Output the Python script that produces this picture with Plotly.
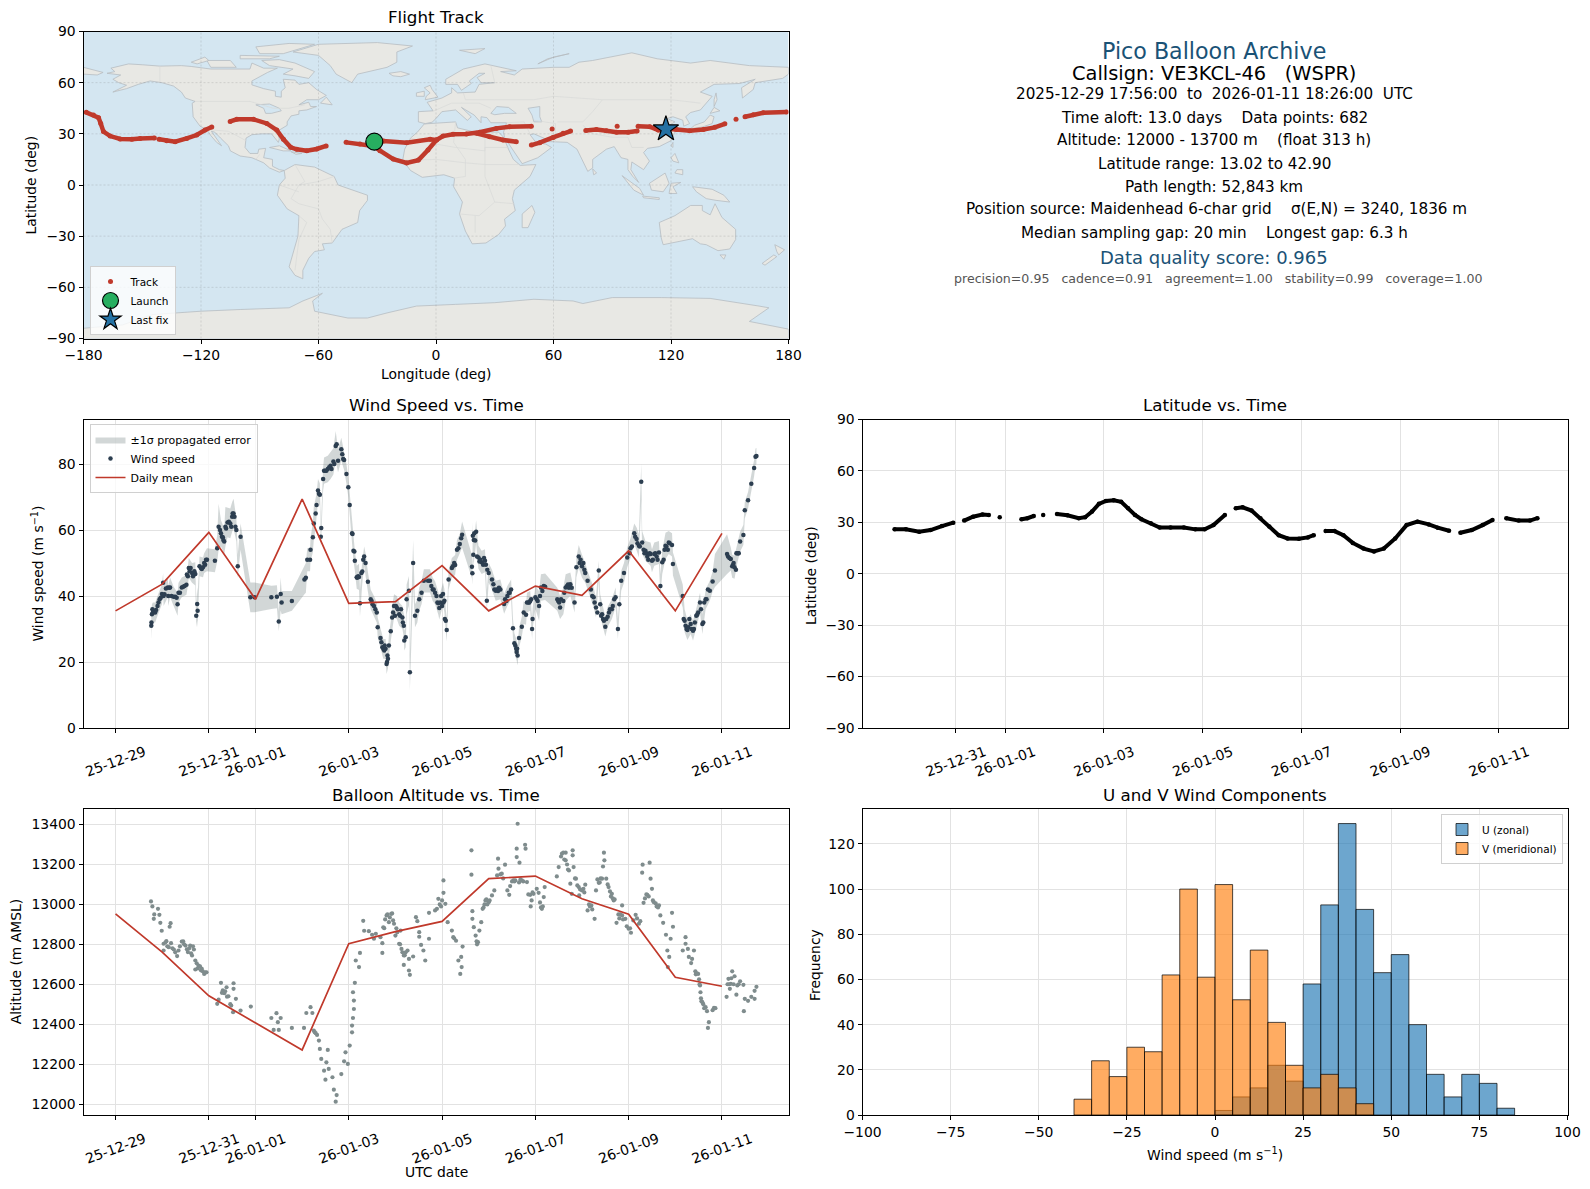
"""Pico balloon flight summary: track map, wind, latitude, altitude and wind histogram."""

from datetime import datetime, timedelta

import numpy as np
import plotly.graph_objects as go

W, H = 1590, 1189
FONT = "DejaVu Sans"
RED = "#c0392b"
NAVY = "#2c3e50"
GREY = "#7f8c8d"
TITLE_BLUE = "#1a5276"
GRID = "#e2e2e2"
OCEAN = "#d4e6f1"
LAND = "#e8e8e4"
COAST = "#b6bdc1"
BORDER = "#d8dad9"

T0 = datetime(2025, 12, 29)

# --- time tick dates
TICK_DATES = ["2025-12-29", "2025-12-31", "2026-01-01", "2026-01-03",
              "2026-01-05", "2026-01-07", "2026-01-09", "2026-01-11"]

# --- wind speed, days since T0
wind_t = [
    .766, .78, .8, .85, .9, .945, .995, 1.02, 1.03, 1.12,
    1.13, 1.17, 1.245, 1.33, 1.35, 1.42, 1.52, 1.55, 1.57, 1.64,
    1.71, 1.73, 1.75, 1.76, 1.8, 1.875, 1.9, 1.96, 2.13, 2.18,
    2.21, 2.26, 2.3, 2.33, 2.355, 2.4, 2.46, 2.5, 2.53, 2.59,
    2.62, 2.68, 2.89, 2.98, 3.34, 3.46, 3.5, 3.54, 3.56, 3.78,
    4.05, 4.08, 4.11, 4.17, 4.18, 4.23, 4.25, 4.29, 4.31, 4.34,
    4.38, 4.4, 4.41, 4.45, 4.47, 4.55, 4.61, 4.67, 4.72, 4.77,
    4.84, 4.9, 4.95, 4.99, 5.02, 5.07, 5.1, 5.13, 5.17, 5.22,
    5.24, 5.29, 5.33, 5.36, 5.41, 5.47, 5.54, 5.6, 5.62, 5.68,
    5.74, 5.79, 5.81, 5.84, 5.86, 5.9, 5.93, 5.97, 6.03, 6.08,
    6.15, 6.18, 6.19, 6.22, 6.24, 6.29, 6.31, 6.38, 6.42, 6.47,
    6.51, 6.56, 6.61, 6.7, 6.74, 6.8, 6.85, 6.92, 6.94, 7.02,
    7.05, 7.08, 7.1, 7.14, 7.21, 7.28, 7.32, 7.38, 7.43, 7.64,
    7.65, 7.66, 7.67, 7.71, 7.73, 7.78, 7.85, 7.92, 7.96, 8.0,
    8.07, 8.1, 8.15, 8.25, 8.33, 8.4, 8.48, 8.52, 8.55, 8.59,
    8.62, 8.65, 8.71, 8.75, 8.8, 8.82, 8.89, 8.93, 8.94, 9.0,
    9.08, 9.12, 9.21, 9.47, 9.53, 9.6, 9.65, 9.75, 9.84, 9.88,
    9.93, 10.0, 10.07, 10.12, 10.19, 10.25, 10.3, 10.36, 10.39, 10.43,
    10.47, 10.5, 10.55, 10.64, 10.72, 10.77, 10.8, 10.84, 10.9, 10.97,
    11.04, 11.12, 11.17, 11.22, 11.27, 11.29, 11.36, 11.47, 11.5, 11.55,
    11.65, 11.68, 11.72, 11.79, 11.86, 11.93, 11.95, 12.16, 12.2, 12.26,
    12.33, 12.38, 12.47, 12.53, 12.58, 12.65, 12.74, 12.8, 12.85, 13.11,
    13.19, 13.22, 13.27, 13.33, 13.39, 13.46, 13.49, 13.56, 13.63, 13.69,
    13.72, 13.74,
]
wind_v = [
    31, 34.5, 35, 35, 37, 39, 40.6, 44, 40, 42.6,
    40, 42.6, 39.8, 37.5, 41, 42.6, 43.4, 46, 48.5, 47,
    46.7, 34, 37.6, 35.5, 49, 48.7, 50, 51, 50.7, 54.5,
    61, 59, 57.8, 56.5, 61, 62.3, 62, 64, 65, 60,
    49, 58, 39.6, 39.6, 39.6, 39.8, 32.3, 40.6, 38, 38.5,
    45, 45.5, 51, 51, 54, 57.8, 62, 65, 67.6, 72,
    70.7, 58, 60.6, 75.5, 78, 78.5, 79.5, 80.8, 85.5, 81,
    84.5, 81.2, 77, 73, 67.6, 59, 53.7, 50.7, 45.7, 45.8,
    37.8, 47.4, 52, 50, 44.3, 39, 37, 35, 30.5, 27.3,
    24, 24, 19.4, 21, 25, 29.3, 33.5, 37, 36.5, 34.5,
    33.5, 31, 26.5, 27.5, 39, 41.6, 16.9, 50, 34, 35.5,
    39, 41, 44.6, 44.6, 44.6, 42, 41, 37.8, 36.4, 40.6,
    38.6, 32.5, 29.7, 45, 48.5, 49.4, 54, 55.8, 58.6, 48.9,
    46.9, 58.3, 52.5, 56.8, 59.5, 51.7, 50.2, 50.7, 38.6, 47,
    45, 43.6, 41.6, 42, 37.6, 40, 42, 30.2, 25.7, 24,
    22, 27.3, 30.7, 35, 34.3, 38, 38.5, 30, 33, 39.6,
    37, 42.6, 42.8, 39, 36.5, 38.5, 42.6, 43.6, 38, 48.7,
    52, 49, 47, 44.6, 42, 39.6, 36.5, 47.7, 37.5, 34.5,
    32.5, 30.7, 33.7, 36, 39.6, 30, 37.5, 44.6, 47, 51.7,
    54.5, 59, 57.3, 55.2, 74.6, 56.2, 53.7, 52.7, 50.7, 52.7,
    53.2, 43, 50.2, 55.2, 56.2, 55.5, 49.7, 40, 32.5, 29.7,
    31.5, 29.5, 34.3, 38, 31.5, 39, 41.6, 44.4, 47.7, 52.7,
    51.2, 49, 48.7, 53, 56.5, 58.5, 66, 69, 74, 78.8,
    82.2, 82.4,
]
wind_err = [
    4, 3, 3, 3, 3, 3, 3, 3, 3, 3,
    3, 3, 3, 3.5, 3, 3, 3, 3, 3, 3,
    3.5, 3.5, 5, 5, 3, 3, 3, 3.5, 3.5, 4,
    7, 4, 4, 4, 6, 4.5, 4.5, 4.5, 4.5, 3.5,
    3.5, 4, 4.5, 4.5, 3.5, 3.5, 3, 5, 3.5, 3,
    4.5, 4.5, 3.5, 3.5, 3.5, 4.5, 5, 4.5, 3.5, 3.5,
    3.5, 3, 3, 3.5, 4, 4, 4, 4, 4.5, 3.5,
    3.5, 3, 3, 3, 3, 3, 3, 3, 3.5, 4,
    4, 3.5, 3, 3, 3, 3, 3, 3, 3, 3,
    3, 3, 3, 3, 3, 3, 3.5, 3.5, 3.5, 3.5,
    3.5, 3.5, 3, 3, 4.5, 4.5, 5.5, 7, 3.5, 3.5,
    3.5, 3.5, 3.5, 3.5, 3.5, 3.5, 3.5, 3.5, 3.5, 3.5,
    3.5, 3.5, 3.5, 3, 3, 3, 3, 3, 4, 3.5,
    3.5, 4, 3.5, 3.5, 3.5, 3.5, 3.5, 3.5, 3, 3,
    3, 3, 3, 3, 3, 3, 3, 3, 3, 3,
    3, 3, 3, 3.5, 3, 3, 3, 3, 3, 3.5,
    4.5, 4, 4, 3.5, 3.5, 4, 4, 3.5, 3, 3,
    3.5, 3.5, 3, 3, 3, 3, 3, 3, 3, 3,
    3, 3, 3, 3, 3, 3, 3, 3, 3, 3,
    3, 3, 3.5, 3.5, 5.5, 3.5, 3, 3.5, 3.5, 3.5,
    3.5, 3.5, 3.5, 4, 3.5, 3.5, 3.5, 3.5, 3.5, 3,
    3, 3, 3, 3, 3, 3, 3, 3, 5, 6,
    3.5, 3.5, 3.5, 3, 3, 3, 2.5, 2.5, 2.5, 2.5,
    2.5, 2.5,
]
# more wind dots read along the dense stretches
wind_dense_t = [
    .77, .79, .82, .87, .92, .97, 1.05, 1.08, 1.15, 1.2, 1.28, 1.31, 1.38, 1.45, 1.48, 1.53, 1.59, 1.61, 1.66, 1.69,
    1.83, 1.85, 1.92, 1.94, 2.24, 2.28, 2.31, 2.37, 2.43, 2.48, 2.51, 2.55, 2.57, 4.36, 4.49, 4.52, 4.58, 4.63, 4.69, 4.74,
    4.86, 4.88, 5.08, 5.12, 5.18, 5.2, 5.27, 5.31, 5.49, 5.51, 5.57, 5.7, 5.72, 5.76, 5.77, 5.82, 5.83, 5.95, 5.99, 6.01,
    6.05, 6.1, 6.12, 6.16, 6.77, 6.82, 6.88, 6.9, 6.96, 6.98, 7.0, 7.03, 7.06, 7.23, 7.26, 7.35, 7.41, 7.68, 7.69, 7.75,
    7.8, 7.82, 7.88, 7.9, 7.94, 7.97, 8.12, 8.17, 8.2, 8.22, 8.35, 8.38, 8.43, 8.45, 8.57, 8.6, 8.61, 8.85, 8.87, 8.91,
    9.03, 9.05, 9.1, 9.15, 9.18, 9.49, 9.51, 9.55, 9.62, 9.68, 9.7, 9.72, 9.78, 9.95, 9.97, 10.03, 10.05, 10.22, 10.27, 10.33,
    10.41, 10.45, 10.52, 10.58, 10.6, 10.66, 10.69, 11.02, 11.07, 11.14, 11.19, 11.24, 11.32, 11.34, 11.38, 11.4, 11.42, 11.45, 11.52, 11.57,
    11.6, 11.62, 11.75, 11.77, 11.81, 11.84, 11.88, 12.18, 12.22, 12.24, 12.28, 12.3, 12.35, 12.4, 12.42, 12.45, 12.49, 12.55, 12.6, 12.62,
    12.67, 12.7, 13.13, 13.16, 13.24, 13.25, 13.3, 13.31, 13.35, 13.36,
]
wind_dense_v = [
    32, 36, 35.5, 35.8, 38, 39.5, 40.5, 42.3, 42.5, 40, 39.8, 39.5, 41, 42.8, 43, 46.5, 47.5, 48.5, 46, 47.5,
    48.5, 48.2, 49.5, 51, 60, 58, 57, 60.5, 62.5, 61, 65, 64, 61, 71, 78, 78, 79, 78.5, 80, 86,
    83, 81.5, 58.8, 53.5, 45.5, 46, 47, 51, 38.5, 37.5, 36, 26, 24.5, 23.5, 25, 20, 22, 35, 34, 37,
    36, 34, 36, 32, 43, 42, 40, 38, 38, 40, 37, 38, 33, 49, 50, 54.5, 57.5, 57, 59, 52,
    50.5, 51, 49.5, 51.5, 49.5, 48, 42, 42, 41.5, 42.5, 39, 38.5, 41, 41, 25, 23, 24, 38, 38, 39,
    39, 38.5, 40, 41.5, 43, 38.5, 38, 39, 41, 43, 43.5, 42.5, 42.5, 50, 51, 50, 48, 40, 38, 35,
    34, 33, 33, 35, 36, 37, 39, 53, 55, 58, 56, 55, 54, 53, 53, 52, 51, 53, 51, 53,
    52, 51, 51, 54, 55, 54, 56, 33, 31, 30, 30.5, 33, 30, 30, 32, 34, 35, 36, 32, 38,
    39, 42, 52, 51.5, 49.5, 50, 48, 53, 53, 53,
]

# --- daily means, one per day from T0
mean_t = [0, 1, 2, 3, 4, 5, 6, 7, 8, 9, 10, 11, 12, 13]
wind_mean = [35.5, 43.6, 59.3, 39, 69.4, 37.8, 38.3, 49.2, 35.5, 43, 40.2, 53.7, 35.5, 59]
alt_mean = [12953, 12761, 12542, 12405, 12271, 12803, 12864, 12915, 13129, 13142, 13028, 12951, 12635, 12590]

# --- altitude
alt_t = [
    .76, .79, .82, .83, .91, .94, .96, .99, 1.03, 1.03,
    1.09, 1.14, 1.16, 1.18, 1.19, 1.25, 1.32, 1.35, 1.42, 1.5,
    1.55, 1.6, 1.64, 1.68, 1.71, 1.71, 1.78, 1.85, 1.9, 1.95,
    2.18, 2.21, 2.26, 2.28, 2.38, 2.39, 2.48, 2.52, 2.53, 2.53,
    2.58, 2.68, 2.9, 3.34, 3.39, 3.45, 3.48, 3.5, 3.54, 3.78,
    4.04, 4.09, 4.18, 4.22, 4.25, 4.32, 4.36, 4.38, 4.41, 4.47,
    4.5, 4.52, 4.55, 4.57, 4.65, 4.68, 4.72, 4.74, 4.84, 4.9,
    4.93, 4.98, 5.02, 5.07, 5.07, 5.09, 5.09, 5.11, 5.11, 5.13,
    5.15, 5.22, 5.24, 5.31, 5.33, 5.43, 5.5, 5.54, 5.58, 5.68,
    5.72, 5.72, 5.76, 5.81, 5.86, 5.91, 5.97, 6.0, 6.08, 6.11,
    6.13, 6.18, 6.18, 6.26, 6.29, 6.29, 6.31, 6.38, 6.44, 6.47,
    6.51, 6.51, 6.55, 6.6, 6.64, 6.72, 6.72, 6.85, 6.89, 6.92,
    7.03, 7.03, 7.07, 7.12, 7.21, 7.24, 7.3, 7.35, 7.39, 7.41,
    7.42, 7.44, 7.63, 7.63, 7.65, 7.65, 7.68, 7.72, 7.77, 7.8,
    7.84, 7.87, 7.93, 8.0, 8.07, 8.12, 8.18, 8.2, 8.21, 8.28,
    8.35, 8.4, 8.44, 8.46, 8.53, 8.6, 8.6, 8.62, 8.66, 8.71,
    8.78, 8.79, 8.82, 8.89, 8.9, 8.96, 9.03, 9.07, 9.14, 9.18,
    9.2, 9.46, 9.5, 9.57, 9.65, 9.65, 9.72, 9.75, 9.78, 9.8,
    9.8, 9.82, 9.87, 9.93, 9.94, 10.03, 10.07, 10.12, 10.2, 10.27,
    10.3, 10.36, 10.43, 10.45, 10.47, 10.48, 10.52, 10.57, 10.64, 10.68,
    10.74, 10.86, 10.86, 10.93, 11.0, 11.05, 11.15, 11.22, 11.25, 11.29,
    11.3, 11.32, 11.4, 11.45, 11.47, 11.5, 11.54, 11.65, 11.68, 11.74,
    11.8, 11.83, 11.84, 11.87, 11.9, 11.93, 11.95, 12.16, 12.22, 12.22,
    12.27, 12.29, 12.34, 12.36, 12.4, 12.43, 12.49, 12.53, 12.54, 12.58,
    12.65, 12.68, 12.7, 12.72, 12.83, 13.1, 13.14, 13.17, 13.19, 13.22,
    13.27, 13.31, 13.33, 13.39, 13.46, 13.47, 13.49, 13.56, 13.63, 13.7,
    13.7, 13.74,
]
alt_m = [
    13015, 12990, 12928, 12950, 12978, 12948, 12908, 12868, 12803, 12769,
    12816, 12786, 12888, 12906, 12806, 12774, 12741, 12769, 12814, 12794,
    12761, 12794, 12744, 12774, 12719, 12674, 12694, 12677, 12652, 12660,
    12502, 12523, 12607, 12557, 12585, 12538, 12493, 12460, 12605, 12577,
    12527, 12468, 12488, 12431, 12371, 12455, 12410, 12371, 12431, 12381,
    12381, 12456, 12485, 12456, 12368, 12346, 12318, 12276, 12226, 12167,
    12122, 12209, 12271, 12176, 12134, 12072, 12012, 12045, 12150, 12214,
    12259, 12201, 12293, 12359, 12393, 12431, 12560, 12476, 12518, 12607,
    12719, 12686, 12757, 12918, 12868, 12866, 12848, 12828, 12853, 12836,
    12806, 12757, 12881, 12945, 12911, 12953, 12903, 12844, 12803, 12869,
    12777, 12744, 12697, 12769, 12727, 12669, 12647, 12739, 12936, 12916,
    12861, 12838, 12797, 12769, 12719, 12958, 12828, 12970, 12978, 13028,
    13120, 13058, 13003, 12911, 12869, 12836, 12818, 12719, 12652, 12737,
    12686, 12789, 13271, 13149, 12966, 12928, 12886, 12844, 12811, 12869,
    12911, 12978, 13020, 13011, 13045, 13070, 13145, 13229, 13179, 13154,
    13199, 13070, 13048, 13092, 13120, 13279, 13237, 13404, 13209, 13120,
    13299, 13279, 13112, 13048, 12990, 13053, 13078, 13058, 12978, 13037,
    13087, 13140, 13187, 13254, 13259, 13221, 13170, 13104, 13053, 13271,
    13246, 13187, 13129, 13087, 13045, 13078, 13099, 12970, 12995, 12928,
    13070, 13108, 13129, 13190, 13259, 13221, 13129, 13087, 13053, 13020,
    12908, 12995, 12945, 12928, 12878, 12858, 12948, 12903, 12916, 13159,
    13199, 13008, 13048, 13209, 13129, 13078, 13011, 12995, 12945, 12908,
    12848, 12769, 12686, 12737, 12828, 12958, 12888, 12769, 12836, 12803,
    12777, 12737, 12706, 12727, 12769, 12665, 12652, 12594, 12560, 12510,
    12485, 12465, 12381, 12410, 12482, 12537, 12627, 12577, 12602, 12665,
    12640, 12548, 12594, 12615, 12597, 12465, 12527, 12517, 12537, 12527,
    12567, 12587,
]
# more altitude dots read along the dense stretches
alt_dense_t = [
    1.07, 1.11, 1.22, 1.28, 1.38, 1.45, 1.47, 1.53, 1.58, 1.62, 1.66, 1.74, 1.76, 1.81, 1.83, 1.87, 1.92, 2.3, 2.33, 2.35,
    2.42, 2.46, 4.27, 4.29, 5.74, 5.78, 5.83, 5.88, 5.93, 5.95, 6.02, 6.04, 6.1, 6.15, 6.2, 6.22, 6.95, 6.98, 7.0, 7.26,
    7.74, 7.75, 7.89, 7.91, 7.95, 7.97, 8.02, 8.25, 8.31, 8.5, 8.55, 8.57, 8.65, 8.68, 8.74, 8.85, 8.92, 8.94, 9.1, 9.12,
    9.16, 9.55, 9.6, 9.62, 9.68, 9.7, 9.85, 9.9, 9.96, 10.0, 10.05, 10.15, 10.17, 10.22, 10.33, 10.38, 10.4, 10.55, 10.6, 10.62,
    10.66, 10.7, 10.78, 10.8, 10.82, 10.88, 10.96, 11.03, 11.1, 11.18, 11.35, 11.38, 11.43, 11.52, 11.58, 11.6, 11.63, 12.44, 12.46, 12.51,
    12.52, 12.55, 12.56, 12.6, 12.62, 12.8, 12.86, 13.12, 13.15, 13.2, 13.25, 13.36,
]
alt_dense_m = [
    12810, 12790, 12780, 12760, 12790, 12815, 12800, 12775, 12780, 12755, 12790, 12705, 12680, 12690, 12670, 12665, 12660, 12570, 12555, 12565,
    12540, 12500, 12360, 12355, 12885, 12925, 12950, 12935, 12955, 12920, 12880, 12860, 12800, 12760, 12745, 12760, 13000, 12990, 13020, 12830,
    12815, 12800, 12985, 13000, 13025, 13000, 13020, 13150, 13130, 13115, 13115, 13120, 13110, 13125, 13115, 13050, 13020, 13060, 13010, 12985,
    12990, 13240, 13260, 13225, 13200, 13175, 13130, 13095, 13075, 13070, 13060, 13000, 12990, 12975, 13125, 13110, 13130, 13100, 13065, 13040,
    13030, 13025, 12950, 12930, 12950, 12925, 12890, 12880, 12920, 12930, 13030, 13050, 13040, 13020, 13005, 12990, 12985, 12650, 12655, 12625,
    12600, 12530, 12515, 12500, 12480, 12470, 12480, 12600, 12600, 12630, 12600, 12600,
]

# --- latitude runs (split at the data gaps)
lat_runs_t = [
    [.76, .99, 1.26, 1.49, 1.72, 1.95],
    [2.17, 2.35, 2.54, 2.67],
    [2.89],
    [3.33, 3.45, 3.58],
    [3.77],
    [4.05, 4.26, 4.49, 4.62, 4.76, 4.9, 5.04, 5.2, 5.35, 5.49, 5.63, 5.76, 5.95, 6.13, 6.35, 6.62, 6.85, 7.04, 7.22, 7.45],
    [7.67, 7.81, 7.99, 8.17, 8.35, 8.54, 8.72, 8.95, 9.13, 9.25],
    [9.49, 9.67, 9.85, 10.04, 10.26, 10.47, 10.67, 10.9, 11.13, 11.35, 11.58, 11.76, 11.99],
    [12.22, 12.45, 12.67, 12.87],
    [13.15, 13.4, 13.63, 13.78],
]
lat_runs_v = [
    [25.9, 25.9, 24.5, 25.5, 27.8, 29.8],
    [31, 33.3, 34.5, 34.3],
    [33],
    [31.8, 32.4, 33.7],
    [34.3],
    [34.9, 34.1, 32.4, 33, 36.3, 40.8, 42.5, 42.9, 42, 38.2, 34.3, 31.8, 29.4, 27, 27, 27, 25.9, 25.9, 28.4, 34.3],
    [38.2, 38.8, 36.9, 32.4, 27.5, 22.5, 20.6, 20.4, 21.2, 22.5],
    [24.9, 24.9, 22.5, 18, 14.7, 13.02, 14.7, 20.6, 28.4, 30.4, 28.8, 26.9, 25.1],
    [23.9, 25.5, 28.4, 31.4],
    [32.4, 31, 31, 32.4],
]

# --- flight track runs on the map
track_runs_lon = [
    [-178.6, -174.9, -172.3, -171.2, -169.8, -166.4, -161.3, -155.3, -151.1, -143.8],
    [-141.4, -137.5, -133.2, -127.3, -122.2, -117.9, -114.5],
    [-105.1, -101.7, -93.2, -86.4, -81.3, -77.9, -74.2, -71.1, -66, -60.9, -56.1],
    [-45.9, -38.8, -32, -28.6, -21.8, -15, -9, -4.1, 0.2, 3.6, 8.7, 15.5, 22.3, 30.8, 37.6, 48.7],
    [-32, -26.9, -15, -3, 0.2],
    [20.6, 27.4, 34.2, 41],
    [48.7, 53, 59.8, 64.9, 68.7],
    [59.3],
    [76.5, 81.9, 87, 92.2, 98.1, 102.7],
    [92.5],
    [103.2, 109.2, 113.5, 117.7, 122.8, 129.6, 136.5, 142.4, 147.5],
    [153.2],
    [157.8, 162, 167.1, 179],
]
track_runs_lat = [
    [42.6, 41, 39.5, 36.1, 31.3, 28.7, 27, 26.8, 27.3, 27.5],
    [26.8, 26, 25.4, 27.3, 29.3, 32.2, 34],
    [37.3, 38.5, 38.5, 36.1, 32.2, 26.8, 22.1, 20.9, 20.1, 21.1, 22.9],
    [25, 24, 22.9, 20.1, 15.2, 12.9, 14.6, 20.5, 26.4, 28.7, 29.7, 29.9, 30.9, 33.2, 34.2, 34.4],
    [22.9, 25.8, 24.8, 26.8, 26.4],
    [30.3, 28.3, 26.4, 25.4],
    [23.4, 24.8, 27.9, 30.3, 31.6],
    [32.8],
    [32, 32.6, 31.8, 30.9, 31, 31.6],
    [34.4],
    [34.4, 34.2, 32.2, 33, 32.6, 31.8, 32.6, 33.8, 35.9],
    [38.5],
    [40, 41.2, 42.4, 42.8],
]
launch_lon, launch_lat = [-31.5], [25.4]
last_lon, last_lat = [117.4], [32.8]

# --- basemap outlines (lon, lat)
north_america = [(-168, 65.5), (-164, 66.5), (-166, 68.5), (-157, 71), (-150, 70.5), (-141, 69.7), (-130, 70), (-125, 69.5), (-115, 68), (-108, 68), (-95, 68), (-94, 71.5), (-88, 68.5), (-81, 68.5), (-86, 66), (-94, 61), (-94, 58.7), (-88, 56.5), (-82, 55), (-82, 52), (-79, 51.5), (-79, 55), (-77, 57), (-78, 62), (-72, 61.5), (-70, 59), (-65, 60), (-61, 56), (-56, 52.5), (-60, 50), (-66, 50), (-70, 47), (-65, 48.5), (-64, 46), (-61, 46), (-66, 44), (-70, 43.5), (-70, 41.5), (-74, 40.5), (-76, 37), (-76, 35), (-81, 31.5), (-80, 27), (-80.5, 25), (-82, 27), (-84, 30), (-89, 30), (-94, 29.5), (-97, 27.5), (-97.5, 22), (-95, 18.5), (-91, 18.5), (-90.5, 21), (-87, 21.5), (-88, 16), (-83.5, 15), (-83.5, 11), (-80, 9), (-77.5, 8.5), (-80, 7.5), (-85, 10), (-88, 13), (-94, 16), (-100, 17), (-105, 20), (-106, 23), (-110, 27.5), (-113, 31), (-114.7, 31.5), (-112, 27), (-109.5, 23), (-112, 25), (-115, 29), (-117, 32.5), (-120.5, 34.5), (-124, 40), (-124.5, 48), (-123, 49), (-128, 51), (-130, 54.5), (-134, 58), (-140, 60), (-146, 61), (-152, 59), (-158, 56.5), (-165, 54.5), (-158, 58.5), (-162, 60), (-165, 62), (-161, 64.5), (-168, 65.5)]
baffin = [(-80, 73.5), (-72, 71.5), (-62, 66.5), (-65, 62.5), (-72, 64), (-78, 65), (-73, 68), (-85, 70), (-89, 73)]
victoria = [(-117, 73), (-105, 73), (-102, 69), (-115, 69)]
ellesmere = [(-90, 77), (-78, 77), (-62, 82.5), (-75, 83), (-92, 81)]
banks = [(-125, 72), (-118, 75), (-116, 73), (-122, 71)]
devon = [(-100, 76), (-80, 75.5), (-85, 74), (-100, 74)]
newfoundland = [(-59, 48), (-53, 47), (-56, 51.5)]
greenland = [(-73, 78), (-60, 76), (-54, 70), (-51, 65), (-43, 60), (-40, 65), (-25, 69), (-20, 72), (-20, 78), (-12, 81.5), (-30, 83.5), (-60, 82.5)]
iceland = [(-24, 65.5), (-18, 66.5), (-13.5, 65), (-18, 63.5), (-22, 64)]
south_america = [(-77.5, 8.5), (-72, 12), (-62, 10.5), (-52, 5), (-50, 0), (-44, -2.5), (-35, -6), (-35, -9), (-39, -15), (-40, -22), (-48, -26), (-53, -34), (-58, -34.5), (-57, -38), (-62, -39), (-65, -43), (-68, -50), (-68, -55), (-72, -53), (-75, -48), (-73, -40), (-70.5, -30), (-70, -18), (-76, -14), (-81, -6), (-80, 0), (-77, 4)]
africa = [(-6, 35.8), (10, 37), (11, 33.5), (20, 31), (32, 31), (34.5, 28), (37, 21), (39.5, 15), (43, 11.5), (51, 12), (48, 5), (40, -3), (39, -8), (40.5, -15), (35, -20), (35.5, -24), (32, -29), (25.5, -34), (18.5, -34.5), (15, -27), (12, -17), (13.5, -10), (9, -1), (9.5, 4), (4, 6), (-7, 4.5), (-13, 8.5), (-17, 14.5), (-16, 21), (-13, 27.5), (-9.5, 31)]
eurasia = [(-9, 37), (-9, 43), (-1.5, 43.5), (-4.5, 48.5), (3, 51), (8, 54), (8, 57), (11, 54), (20, 54.5), (22, 59), (30, 60), (23, 60), (21, 63), (25, 65.5), (22, 65.5), (17, 61), (18, 59.5), (13, 55.5), (11, 59), (5, 59), (5, 62), (14, 68), (25, 71), (41, 67), (33, 66.5), (40, 64.5), (44, 68), (60, 69), (68, 69), (73, 72), (80, 73), (100, 77.5), (113, 74), (130, 71.5), (140, 73), (160, 70), (180, 69), (180, 65), (177, 62.5), (163, 60), (162, 56), (156.5, 51), (156, 57), (163, 62), (155, 59.5), (142, 59), (135, 54.5), (141, 52), (135, 44), (130, 42.5), (127.5, 40), (129.5, 36), (126.5, 34.5), (126, 38), (121, 40), (118, 39), (122, 37), (119, 35), (122, 31), (120, 26), (114, 22.5), (108, 21.5), (106, 19), (109, 14), (106, 9), (103, 11), (100, 13.5), (99.5, 9), (103.5, 1.5), (100.5, 5), (98, 9), (98, 15), (94.5, 16), (91, 22.5), (87, 21), (80, 15), (80, 10), (77.5, 8), (73, 18), (72, 21), (67, 25), (57, 25.5), (56, 27), (50, 30), (48, 29.5), (51, 25), (56, 24), (59, 22), (52, 16), (44, 12.5), (39, 21), (35, 28), (34.5, 31), (36, 36.5), (28, 36.5), (26, 39.5), (23, 40), (23, 36.5), (19.5, 41), (13, 45.5), (18, 40), (16, 37.9), (10, 44), (3, 43), (0, 39), (-2, 36.8), (-5.5, 36)]
chukotka = [(-180, 69), (-170, 66), (-173, 64.5), (-180, 65)]
great_britain = [(-5.5, 50), (1, 51.5), (-2, 56), (-3, 58.5), (-6, 57), (-3, 54), (-5, 52)]
ireland = [(-10, 52), (-6, 52), (-6, 55), (-10, 54)]
svalbard = [(12, 79), (25, 80), (20, 77)]
novaya_zemlya = [(52, 71), (57, 74), (68, 77), (60, 75)]
sakhalin = [(142, 46), (143.5, 50), (143, 54), (142, 50)]
honshu = [(130, 33), (136, 34), (141, 36), (142, 40), (140, 41), (137, 37), (132, 35)]
hokkaido = [(140, 42), (145, 43.5), (142, 45.5)]
taiwan = [(120, 23), (121, 25), (121, 22)]
luzon = [(120, 16), (122, 18.5), (124, 13), (121, 14)]
mindanao = [(122, 7), (126, 6), (126, 9), (123, 9)]
borneo = [(109, 1), (117, 7), (119, 1), (116, -4), (110, -3)]
sumatra = [(95, 5.5), (104, -2), (106, -6), (101, -3)]
java = [(105.5, -6.5), (114, -7.5), (114, -8.5), (106, -7.5)]
sulawesi = [(119, -5), (120, 1), (125, 1.5), (121, -1), (123, -5)]
new_guinea = [(131, -1), (141, -2.5), (147, -6), (150, -10), (143, -9), (138, -8), (133, -4)]
australia = [(114, -22), (122, -18), (130, -12), (136, -12), (136, -15), (140, -17.5), (142.5, -11), (146, -19), (153, -26), (153, -32), (150, -37.5), (144, -38.5), (138, -35), (135, -34.5), (131, -31.5), (124, -33), (116, -35), (115, -31)]
tasmania = [(145, -41), (148, -41), (147, -43.5)]
nz_north = [(173, -35), (178, -38), (175, -41), (174, -39)]
nz_south = [(172.5, -41), (174, -42), (168, -47), (166.5, -46)]
madagascar = [(49, -12), (50.5, -16), (47, -25), (44, -25), (44, -17)]
sri_lanka = [(80, 9.5), (82, 7), (80.5, 6)]
cuba = [(-85, 22), (-80, 23), (-74, 20), (-78, 20)]
hispaniola = [(-74, 19.5), (-68.5, 18.5), (-71.5, 18)]
antarctica = [(-180, -84), (-160, -82), (-145, -76), (-120, -74), (-100, -73), (-75, -72), (-68, -68), (-58, -63.5), (-63, -68), (-62, -74), (-45, -78), (-35, -78), (-25, -75), (-10, -71), (10, -70), (30, -69), (50, -67), (70, -68), (75, -69.5), (90, -66), (115, -66), (140, -66.5), (165, -71), (170, -72), (160, -80), (180, -84.5), (180, -90), (-180, -90)]
LAND_SHAPES = [north_america, baffin, victoria, ellesmere, banks, devon, newfoundland, greenland, iceland,
               south_america, africa, eurasia, chukotka, great_britain, ireland, svalbard, novaya_zemlya,
               sakhalin, honshu, hokkaido, taiwan, luzon, mindanao, borneo, sumatra, java, sulawesi,
               new_guinea, australia, tasmania, nz_north, nz_south, madagascar, sri_lanka, cuba, hispaniola,
               antarctica]

black_sea = [(28, 42), (31, 46), (37, 45.5), (41, 42), (35, 42), (30, 41.2)]
caspian = [(47, 45), (53, 46), (53, 40), (54, 37), (50, 37), (49, 41)]
great_lakes = [(-92, 47), (-85, 47.5), (-80, 45), (-79, 43.5), (-84, 42), (-87, 42), (-88, 45)]
WATER_SHAPES = [black_sea, caspian, great_lakes]

BORDERS = [
    [(-123, 49), (-95, 49), (-83, 45), (-75, 45), (-67, 47)],
    [(-141, 69.7), (-141, 60)],
    [(-117, 32.5), (-106, 31.5), (-97, 26)],
    [(-92, 15), (-90, 18)],
    [(-52, 5), (-60, 2), (-70, 0), (-74, -8), (-70, -11), (-60, -14), (-58, -20), (-54, -26), (-53, -34)],
    [(-70, -18), (-66, -22), (-70, -32), (-72, -50)],
    [(-72, 12), (-67, 2), (-70, 0)],
    [(-80, 0), (-75, -2), (-70, -4)],
    [(-13, 27.5), (-5, 25), (10, 22), (25, 20), (25, 22), (37, 22)],
    [(10, 37), (9, 25), (15, 15), (15, 5), (9, 4)],
    [(25, 31), (25, 5), (30, -10), (22, -18), (12, -17)],
    [(-17, 14.5), (0, 15), (15, 13), (25, 12), (42, 12)],
    [(30, -10), (40, -11)],
    [(20, -18), (20, -28)],
    [(30, 50), (50, 50), (60, 52), (85, 50), (100, 50), (120, 50), (135, 48)],
    [(75, 35), (80, 30), (90, 28), (98, 28), (100, 22), (106, 22)],
    [(62, 37), (75, 37), (80, 43), (85, 50)],
    [(61, 25), (61, 36), (50, 38)],
    [(36, 36.5), (45, 37), (48, 30)],
    [(-2, 43), (8, 48), (13, 48), (22, 48), (28, 45)],
    [(14, 54), (15, 50), (24, 50), (30, 50)],
    [(30, 60), (28, 70)],
]

# --- histogram bins, 5 m/s wide
u_bin_left = [0, 5, 10, 15, 20, 25, 30, 35, 40, 45, 50, 55, 60, 65, 70, 75, 80]
u_counts = [2, 8, 12, 22, 15, 58, 93, 129, 91, 63, 71, 40, 18, 8, 18, 14, 3]
v_bin_left = [-40, -35, -30, -25, -20, -15, -10, -5, 0, 5, 10, 15, 20, 25, 30, 35, 40]
v_counts = [7, 24, 17, 30, 28, 62, 100, 61, 102, 51, 73, 41, 22, 12, 18, 12, 5]

# --- info panel
info_lines = [
    ("Pico Balloon Archive", 22.2, TITLE_BLUE, 1214, 50.8),
    ("Callsign: VE3KCL-46   (WSPR)", 19.4, "black", 1214, 73.2),
    ("2025-12-29 17:56:00  to  2026-01-11 18:26:00  UTC", 15.2, "black", 1214, 94.5),
    ("Time aloft: 13.0 days    Data points: 682", 15.2, "black", 1214, 117.9),
    ("Altitude: 12000 - 13700 m    (float 313 h)", 15.2, "black", 1214, 140.3),
    ("Latitude range: 13.02 to 42.90", 15.2, "black", 1214, 163.7),
    ("Path length: 52,843 km", 15.2, "black", 1214, 187),
    ("Position source: Maidenhead 6-char grid    σ(E,N) = 3240, 1836 m", 15.2, "black", 1216, 209.4),
    ("Median sampling gap: 20 min    Longest gap: 6.3 h", 15.2, "black", 1214, 232.8),
    ("Data quality score: 0.965", 18, TITLE_BLUE, 1214, 257.2),
    ("precision=0.95   cadence=0.91   agreement=1.00   stability=0.99   coverage=1.00", 12.6, "#555555", 1218, 278.5),
]

panel_titles = [
    ("Flight Track", 436, 17.5), ("Wind Speed vs. Time", 436, 405), ("Latitude vs. Time", 1215, 405),
    ("Balloon Altitude vs. Time", 436, 794.5), ("U and V Wind Components", 1215, 794.5),
]
x_titles = [
    ("Longitude (deg)", 436, 374), ("UTC date", 436, 1172), ("Wind speed (m s<sup>−1</sup>)", 1215, 1154),
]
y_titles = [
    ("Latitude (deg)", 30.5, 185), ("Wind speed (m s<sup>−1</sup>)", 37.6, 574), ("Latitude (deg)", 811, 576),
    ("Altitude (m AMSL)", 16.3, 961), ("Frequency", 815, 965),
]


def to_time(days):
    return [T0 + timedelta(days=float(d)) for d in days]


def with_gaps(runs):
    out = []
    for run in runs:
        out.extend(run)
        out.append(None)
    return out


def dom_x(left, right):
    return [left / W, right / W]


def dom_y(top, bottom):
    return [1 - bottom / H, 1 - top / H]


def axis(**kw):
    base = dict(
        automargin=False, showline=True, linecolor="black", linewidth=1, mirror=True,
        ticks="outside", ticklen=4, tickwidth=1, tickcolor="black",
        showgrid=True, gridcolor=GRID, gridwidth=1, zeroline=False,
        tickfont=dict(size=13.9),
    )
    base.update(kw)
    return base


def date_axis(**kw):
    return axis(type="date", tickformat="%y-%m-%d", tickangle=-20, ticklabelshift=29, ticklabelstandoff=6, **kw)


def text_note(text, px, py, size, color="black", angle=0):
    return dict(text=text, x=px / W, y=1 - py / H, xref="paper", yref="paper", showarrow=False,
                font=dict(size=size, color=color), xanchor="center", yanchor="middle", textangle=angle)


fig = go.Figure()

# Flight track map
for shape in LAND_SHAPES:
    lons, lats = zip(*shape)
    fig.add_trace(go.Scatter(
        x=list(lons) + [lons[0]], y=list(lats) + [lats[0]], mode="lines", fill="toself",
        fillcolor=LAND, line=dict(color=COAST, width=0.8), showlegend=False, hoverinfo="skip",
    ))
for shape in WATER_SHAPES:
    lons, lats = zip(*shape)
    fig.add_trace(go.Scatter(
        x=list(lons) + [lons[0]], y=list(lats) + [lats[0]], mode="lines", fill="toself",
        fillcolor=OCEAN, line=dict(color=COAST, width=0.8), showlegend=False, hoverinfo="skip",
    ))
for border in BORDERS:
    lons, lats = zip(*border)
    fig.add_trace(go.Scatter(
        x=lons, y=lats, mode="lines", line=dict(color=BORDER, width=0.7), showlegend=False, hoverinfo="skip",
    ))

lon_ticks = list(range(-180, 181, 60))
lat_ticks = list(range(-90, 91, 30))
grid_x, grid_y = [], []
for lon in lon_ticks[1:-1]:
    grid_x += [lon, lon, None]
    grid_y += [-90, 90, None]
for lat in lat_ticks[1:-1]:
    grid_x += [-180, 180, None]
    grid_y += [lat, lat, None]
fig.add_trace(go.Scatter(
    x=grid_x, y=grid_y, mode="lines", line=dict(color="rgba(120,120,120,0.28)", width=0.8, dash="2px,2px"),
    showlegend=False, hoverinfo="skip",
))

fig.add_trace(go.Scatter(
    x=with_gaps(track_runs_lon), y=with_gaps(track_runs_lat), mode="lines",
    line=dict(color=RED, width=4.5), showlegend=False, hoverinfo="skip",
))
fig.add_trace(go.Scatter(
    x=[v for run in track_runs_lon for v in run], y=[v for run in track_runs_lat for v in run],
    mode="markers", name="Track", marker=dict(color=RED, size=5), legend="legend",
))
fig.add_trace(go.Scatter(
    x=launch_lon, y=launch_lat, mode="markers", name="Launch", legend="legend",
    marker=dict(color="#27ae60", size=17, line=dict(color="black", width=1.2)),
))
fig.add_trace(go.Scatter(
    x=last_lon, y=last_lat, mode="markers", name="Last fix", legend="legend",
    marker=dict(color="#2471a3", size=19, symbol="star", line=dict(color="black", width=1.2)),
))

# Wind speed
order = np.argsort(wind_t)
w_t = np.array(wind_t)[order]
w_v = np.array(wind_v)[order]
w_e = np.array(wind_err)[order]
band_x = to_time(w_t) + to_time(w_t[::-1])
band_y = list(w_v + w_e) + list((w_v - w_e)[::-1])
fig.add_trace(go.Scatter(
    x=band_x, y=band_y, xaxis="x2", yaxis="y2", mode="lines", fill="toself",
    fillcolor="rgba(127,140,141,0.35)", line=dict(width=0), name="±1σ propagated error", legend="legend2",
))
fig.add_trace(go.Scatter(
    x=to_time(wind_t + wind_dense_t), y=wind_v + wind_dense_v, xaxis="x2", yaxis="y2", mode="markers",
    name="Wind speed", legend="legend2", marker=dict(color=NAVY, size=4.5),
))
fig.add_trace(go.Scatter(
    x=to_time(mean_t), y=wind_mean, xaxis="x2", yaxis="y2", mode="lines", name="Daily mean", legend="legend2",
    line=dict(color=RED, width=1.7),
))

# Latitude
fig.add_trace(go.Scatter(
    x=with_gaps([to_time(run) for run in lat_runs_t]), y=with_gaps(lat_runs_v), xaxis="x3", yaxis="y3",
    mode="lines+markers", line=dict(color="black", width=4), marker=dict(color="black", size=4.5), showlegend=False,
))

# Altitude
fig.add_trace(go.Scatter(
    x=to_time(alt_t + alt_dense_t), y=alt_m + alt_dense_m, xaxis="x4", yaxis="y4", mode="markers",
    marker=dict(color=GREY, size=4.2), showlegend=False,
))
fig.add_trace(go.Scatter(
    x=to_time(mean_t), y=alt_mean, xaxis="x4", yaxis="y4", mode="lines",
    line=dict(color=RED, width=1.7), showlegend=False,
))

# U and V histogram
fig.add_trace(go.Bar(
    x=[b + 2.5 for b in u_bin_left], y=u_counts, width=5, xaxis="x5", yaxis="y5", name="U (zonal)", legend="legend3",
    marker=dict(color="rgba(31,119,180,0.65)", line=dict(color="rgba(0,0,0,0.7)", width=1)),
))
fig.add_trace(go.Bar(
    x=[b + 2.5 for b in v_bin_left], y=v_counts, width=5, xaxis="x5", yaxis="y5", name="V (meridional)", legend="legend3",
    marker=dict(color="rgba(255,127,14,0.65)", line=dict(color="rgba(0,0,0,0.7)", width=1)),
))

# Titles and the info panel
annotations = [text_note(t, px, py, 16.7) for t, px, py in panel_titles]
annotations += [text_note(t, px, py, 13.9) for t, px, py in x_titles]
annotations += [text_note(t, px, py, 13.9, angle=-90) for t, px, py in y_titles]
annotations += [text_note(t, px, py, s, color=c) for t, s, c, px, py in info_lines]

time_range = to_time([-0.687, 14.427])
lat_range = to_time([0.111, 14.389])
legend_box = dict(
    bgcolor="rgba(255,255,255,0.8)", bordercolor="#d0d0d0", borderwidth=1, font=dict(size=11),
    xanchor="left", yanchor="top", tracegroupgap=0,
)

fig.update_layout(
    width=W, height=H, margin=dict(l=0, r=0, t=0, b=0), paper_bgcolor="white", plot_bgcolor="white",
    font=dict(family=FONT, color="black"), barmode="overlay", annotations=annotations, hovermode="closest",
    shapes=[dict(type="rect", xref="x", yref="y", x0=-180, x1=180, y0=-90, y1=90,
                 fillcolor=OCEAN, line_width=0, layer="below")],
    xaxis=axis(domain=dom_x(83.5, 788.5), anchor="y", range=[-180, 180], tickvals=lon_ticks, showgrid=False),
    yaxis=axis(domain=dom_y(31.5, 338.5), anchor="x", range=[-90, 90], tickvals=lat_ticks, showgrid=False),
    xaxis2=date_axis(domain=dom_x(83.5, 788.5), anchor="y2", range=time_range, tickvals=TICK_DATES),
    yaxis2=axis(domain=dom_y(419.5, 728), anchor="x2", range=[0, 93.5], tickvals=[0, 20, 40, 60, 80]),
    xaxis3=date_axis(domain=dom_x(862.5, 1567.5), anchor="y3", range=lat_range, tickvals=TICK_DATES[1:]),
    yaxis3=axis(domain=dom_y(419.5, 728), anchor="x3", range=[-90, 90], tickvals=lat_ticks),
    xaxis4=date_axis(domain=dom_x(83.5, 788.5), anchor="y4", range=time_range, tickvals=TICK_DATES),
    yaxis4=axis(domain=dom_y(809, 1115), anchor="x4", range=[11945, 13478], tickvals=list(range(12000, 13401, 200)),
                tickformat="d"),
    xaxis5=axis(domain=dom_x(862.5, 1567.5), anchor="y5", range=[-100, 100], tickvals=list(range(-100, 101, 25))),
    yaxis5=axis(domain=dom_y(809, 1115), anchor="x5", range=[0, 135.45], tickvals=list(range(0, 121, 20))),
    legend=dict(legend_box, x=89.5 / W, y=1 - 335 / H, yanchor="bottom", itemsizing="trace", font=dict(size=10.5)),
    legend2=dict(legend_box, x=89.5 / W, y=1 - 424 / H),
    legend3=dict(legend_box, x=1441 / W, y=1 - 814 / H, font=dict(size=10.5)),
)

fig.write_html("out.html", config=dict(displayModeBar=False), post_script="document.body.style.margin='0';")
